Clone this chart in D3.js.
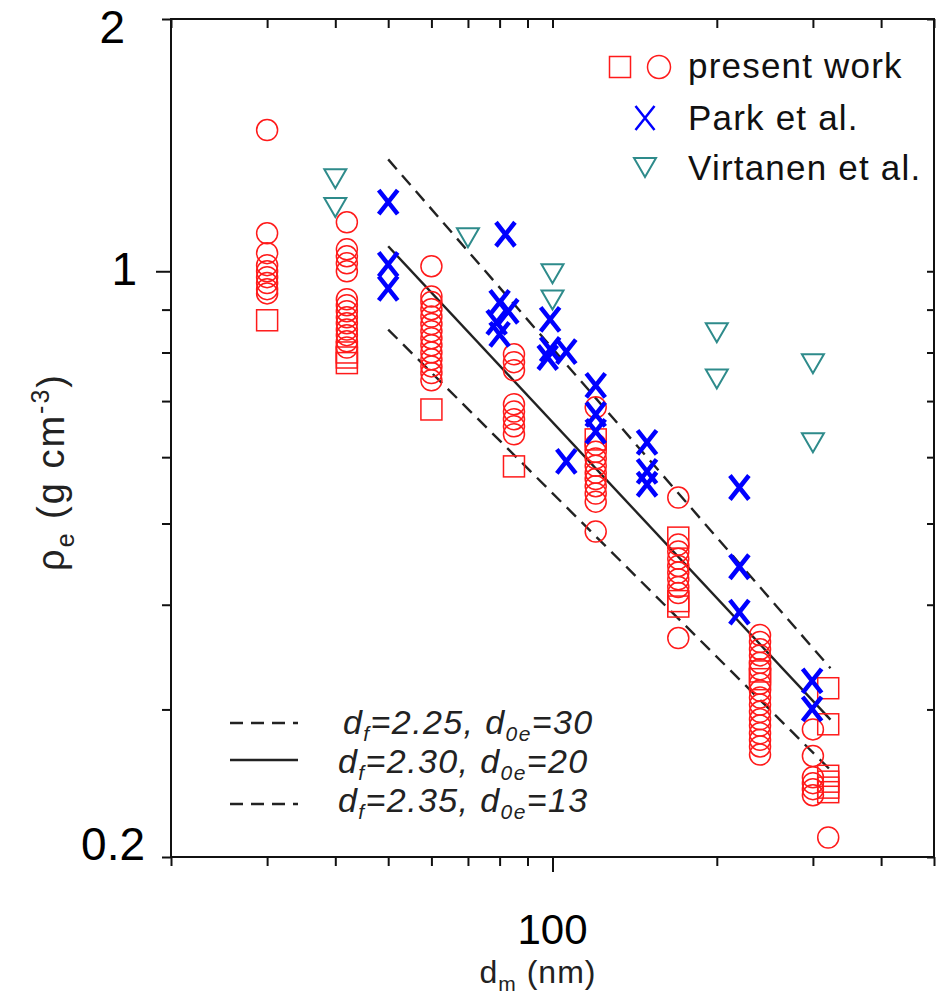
<!DOCTYPE html>
<html><head><meta charset="utf-8">
<script src="https://cdn.jsdelivr.net/npm/d3@7"></script>
<style>
body{margin:0;background:#fff}
svg{display:block}
text{font-family:"Liberation Sans",Arial,sans-serif}
</style>
</head><body>
<svg id="chart" width="936" height="995"></svg>
<script>
// ---------- data ----------
const xTickValues = [20,30,40,50,60,70,80,90,100,200,300,400,500];
const xLabelValues = [100];
const xLabelTexts = ["100"];
const yTickValues = [0.2,0.3,0.4,0.5,0.6,0.7,0.8,0.9,1,2];
const yLabelValues = [2,1,0.2];
const yLabelTexts = ["2","1","0.2"];

const presentCircles = [
 [30,1.474],[30,1.110],[30,1.051],[30,1.017],[30,1.000],[30,0.984],[30,0.968],[30,0.952],[30,0.941],
 [42,1.144],[42,1.062],[42,1.042],[42,1.022],[42,1.000],[42,0.926],[42,0.911],[42,0.896],[42,0.881],[42,0.867],[42,0.852],[42,0.839],[42,0.825],[42,0.811],
 [60,1.014],[60,0.933],[60,0.919],[60,0.901],[60,0.883],[60,0.865],[60,0.848],[60,0.832],[60,0.816],[60,0.800],[60,0.785],[60,0.770],[60,0.756],[60,0.741],
 [85,0.796],[85,0.779],[85,0.762],[85,0.694],[85,0.680],[85,0.666],[85,0.653],[85,0.639],
 [120,0.688],[120,0.621],[120,0.609],[120,0.598],[120,0.586],[120,0.575],[120,0.565],[120,0.554],[120,0.543],[120,0.531],[120,0.489],
 [170,0.537],[170,0.472],[170,0.463],[170,0.454],[170,0.445],[170,0.437],[170,0.429],[170,0.420],[170,0.413],[170,0.365],
 [240,0.368],[240,0.361],[240,0.354],[240,0.348],[240,0.341],[240,0.335],[240,0.322],[240,0.316],[240,0.310],[240,0.304],[240,0.298],[240,0.292],[240,0.287],[240,0.281],[240,0.276],[240,0.271],[240,0.265],
 [300,0.284],[300,0.264],[300,0.249],[300,0.245],[300,0.241],[300,0.237],
 [320,0.211]
];
const presentSquares = [
 [30,0.874],[42,0.800],[42,0.789],[42,0.777],[60,0.684],[85,0.585],[120,0.630],
 [170,0.481],[170,0.404],[170,0.398],[240,0.333],[240,0.326],
 [320,0.318],[320,0.288],[320,0.250],[320,0.246],[320,0.242],[320,0.239]
];
const parkData = [
 [50,1.209],[50,1.019],[50,0.954],[82,1.107],[80,0.918],[83,0.896],[79,0.869],[80,0.841],
 [99,0.876],[99,0.807],[98,0.789],[106,0.802],[120,0.731],[120,0.675],[120,0.644],[106,0.593],
 [149,0.625],[149,0.577],[149,0.557],[220,0.552],[220,0.444],[220,0.392],[299,0.3245],[299,0.3005]
];
const virtanenData = [
 [40,1.295],[40,1.196],[70,1.101],[100,0.997],[100,0.928],[200,0.848],[200,0.747],[300,0.779],[300,0.627]
];
const fitDf = ["2.25","2.30","2.35"];
const fitD0e = ["30","20","13"];
const fitEnds = [
 [[50,1.36],[323,0.336]],
 [[50,1.071],[323,0.2917]],
 [[50,0.852],[323,0.254]]
];
const legendNames = ["present work","Park et al.","Virtanen et al."];

// ---------- drawing ----------
const svg = d3.select("#chart");
const x = d3.scaleLog().domain([20,500]).range([171,934]);
const y = d3.scaleLog().domain([0.2,2]).range([857,19]);
const RED="#ff1a1a", BLUE="#0000ff", TEAL="#2e8b8b", AX="#111";

function styleAxis(g){
  g.select(".domain").remove();
  g.selectAll(".tick line").attr("stroke",AX).attr("stroke-width",2);
  g.selectAll(".tick text").remove();
}
svg.append("g").attr("transform","translate(0,857)")
  .call(d3.axisBottom(x).tickValues(xTickValues).tickSize(9).tickFormat(""))
  .call(styleAxis)
  .selectAll(".tick line").filter(d=>xLabelValues.includes(d)).attr("y2",15);
svg.append("g").attr("transform","translate(0,19)")
  .call(d3.axisTop(x).tickValues(xTickValues).tickSize(-9).tickFormat(""))
  .call(styleAxis);
svg.append("g").attr("transform","translate(171,0)")
  .call(d3.axisLeft(y).tickValues(yTickValues).tickSize(9).tickFormat(""))
  .call(styleAxis)
  .selectAll(".tick line").filter(d=>d===1).attr("x2",-15);
svg.append("g").attr("transform","translate(934,0)")
  .call(d3.axisRight(y).tickValues(yTickValues).tickSize(-7).tickFormat(""))
  .call(styleAxis);
svg.append("rect").attr("x",171).attr("y",19).attr("width",763).attr("height",838)
  .attr("fill","none").attr("stroke",AX).attr("stroke-width",2);

// tick labels
const yLabelShift = {2:24, 1:14, 0.2:3};
svg.append("g").selectAll("text").data(yLabelValues).join("text")
  .attr("x",d=> d===0.2?145:(d===1?137:125))
  .attr("y",d=>y(d)+yLabelShift[d])
  .attr("text-anchor","end").attr("font-size",46).attr("fill","#000")
  .text((d,i)=>yLabelTexts[i]);
svg.append("g").selectAll("text").data(xLabelValues).join("text")
  .attr("x",d=>x(d)).attr("y",944)
  .attr("text-anchor","middle").attr("font-size",42).attr("fill","#000")
  .text((d,i)=>xLabelTexts[i]);

// axis titles
const xt = svg.append("text").attr("x",538).attr("y",983).attr("text-anchor","middle")
  .attr("font-size",32).attr("fill","#222").attr("letter-spacing",1);
xt.append("tspan").text("d");
xt.append("tspan").attr("font-size",21).attr("dy",8).text("m");
xt.append("tspan").attr("dy",-8).text(" (nm)");

const yt = svg.append("text").attr("transform","translate(64,472) rotate(-90)")
  .attr("text-anchor","middle").attr("font-size",38).attr("fill","#222").attr("letter-spacing",2);
yt.append("tspan").text("ρ");
yt.append("tspan").attr("font-size",25).attr("dy",10).text("e");
yt.append("tspan").attr("dy",-10).text(" (g cm");
yt.append("tspan").attr("font-size",25).attr("dy",-15).text("-3");
yt.append("tspan").attr("dy",15).text(")");

// fit lines
const line = d3.line().x(d=>x(d[0])).y(d=>y(d[1]));
const dashes = ["13,8",null,"13,8"];
svg.append("g").selectAll("path").data(fitEnds).join("path")
  .attr("d",line).attr("fill","none").attr("stroke","#222").attr("stroke-width",2.4)
  .attr("stroke-dasharray",(d,i)=>dashes[i]);

// markers
const gData = svg.append("g");
gData.selectAll("circle.pc").data(presentCircles).join("circle").attr("class","pc")
  .attr("cx",d=>x(d[0])).attr("cy",d=>y(d[1])).attr("r",10.5)
  .attr("fill","none").attr("stroke",RED).attr("stroke-width",1.5);
gData.selectAll("rect.ps").data(presentSquares).join("rect").attr("class","ps")
  .attr("x",d=>x(d[0])-10.5).attr("y",d=>y(d[1])-10.5).attr("width",21).attr("height",21)
  .attr("fill","none").attr("stroke",RED).attr("stroke-width",1.5);
const xPath = "M-9.5,-12L9.5,12M9.5,-12L-9.5,12";
gData.selectAll("path.pk").data(parkData).join("path").attr("class","pk")
  .attr("transform",d=>`translate(${x(d[0])},${y(d[1])})`).attr("d",xPath)
  .attr("fill","none").attr("stroke",BLUE).attr("stroke-width",4.5);
const triPath = "M-11,-8L11,-8L0,11Z";
gData.selectAll("path.vt").data(virtanenData).join("path").attr("class","vt")
  .attr("transform",d=>`translate(${x(d[0])},${y(d[1])})`).attr("d",triPath)
  .attr("fill","none").attr("stroke",TEAL).attr("stroke-width",2);

// legend (top right)
const lg = svg.append("g");
lg.append("rect").attr("x",609.5).attr("y",56.5).attr("width",21).attr("height",21)
  .attr("fill","none").attr("stroke",RED).attr("stroke-width",1.5);
lg.append("circle").attr("cx",659).attr("cy",67).attr("r",11.5)
  .attr("fill","none").attr("stroke",RED).attr("stroke-width",1.5);
lg.append("path").attr("transform","translate(645,118)").attr("d",xPath)
  .attr("fill","none").attr("stroke",BLUE).attr("stroke-width",2.5);
lg.append("path").attr("transform","translate(645,166)").attr("d",triPath)
  .attr("fill","none").attr("stroke",TEAL).attr("stroke-width",2);
lg.selectAll("text").data(legendNames).join("text")
  .attr("x",688).attr("y",(d,i)=>[78,130,180][i])
  .attr("font-size",35).attr("letter-spacing",1.2).attr("fill","#111").text(d=>d);

// legend (fit lines)
const fl = svg.append("g");
const lyRows = [723,760,804];
fl.selectAll("line").data(fitDf).join("line")
  .attr("x1",230).attr("x2",298).attr("y1",(d,i)=>lyRows[i]).attr("y2",(d,i)=>lyRows[i])
  .attr("stroke","#222").attr("stroke-width",2.4).attr("stroke-dasharray",(d,i)=>dashes[i]);
const txtRows = [734,773,812];
fitDf.forEach((df,i)=>{
  const t = fl.append("text").attr("x",i===0?343:338).attr("y",txtRows[i])
    .attr("font-size",34).attr("font-style","italic").attr("fill","#222").attr("letter-spacing",1.4);
  t.append("tspan").text("d");
  t.append("tspan").attr("font-size",21).attr("dy",7).text("f");
  t.append("tspan").attr("dy",-7).text("="+df+", d");
  t.append("tspan").attr("font-size",21).attr("dy",7).text("0e");
  t.append("tspan").attr("dy",-7).text("="+fitD0e[i]);
});
</script>
</body></html>
